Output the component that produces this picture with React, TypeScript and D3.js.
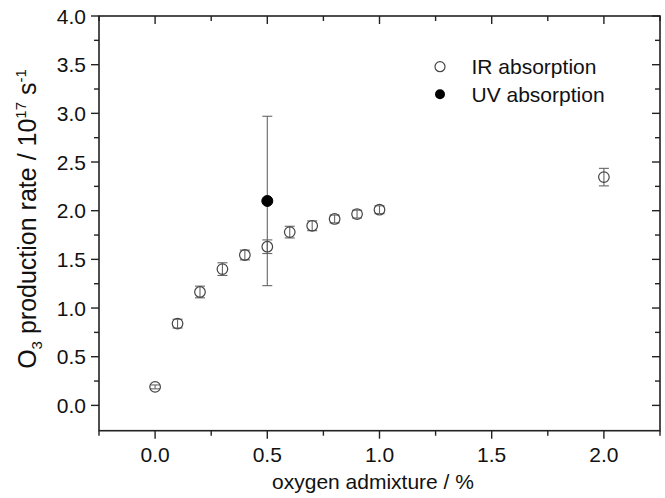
import React from "react";
import * as d3 from "d3";

const irX = [0.0, 0.1, 0.2, 0.3, 0.4, 0.5, 0.6, 0.7, 0.8, 0.9, 1.0, 2.0];
const irY = [0.19, 0.84, 1.165, 1.40, 1.545, 1.63, 1.78, 1.845, 1.915, 1.965, 2.01, 2.345];
const irErr = [0.02, 0.045, 0.06, 0.065, 0.05, 0.07, 0.06, 0.05, 0.04, 0.04, 0.04, 0.09];
const uvX = [0.5];
const uvY = [2.1];
const uvErr = [0.87];
const xMajor = [0, 0.5, 1.0, 1.5, 2.0];
const xMinor = [-0.25, 0.25, 0.75, 1.25, 1.75, 2.25];
const yMajor = [0, 0.5, 1.0, 1.5, 2.0, 2.5, 3.0, 3.5, 4.0];
const yMinor = [0.25, 0.75, 1.25, 1.75, 2.25, 2.75, 3.25, 3.75];
const legendLabels = ["IR absorption", "UV absorption"];

const W = 665, H = 498;
const L = 99, R = 660, T = 16, B = 430.7;
const FONT = "'Liberation Sans', Arial, sans-serif";

export default function App() {
  const x = d3.scaleLinear().domain([-0.25, 2.25]).range([L, R]);
  const y = d3.scaleLinear().domain([-0.26, 4.0]).range([B, T]);
  const fmt = d3.format(".1f");
  const axisColor = "#222";
  const errColor = "#666";
  const capHalf = 5;

  const errBar = (xv: number, yv: number, e: number, key: string) => (
    <g key={key} stroke={errColor} strokeWidth={1.1}>
      <line x1={x(xv)} x2={x(xv)} y1={y(yv + e)} y2={y(yv - e)} />
      <line x1={x(xv) - capHalf} x2={x(xv) + capHalf} y1={y(yv + e)} y2={y(yv + e)} />
      <line x1={x(xv) - capHalf} x2={x(xv) + capHalf} y1={y(yv - e)} y2={y(yv - e)} />
    </g>
  );

  return (
    <svg width={W} height={H} style={{ position: "absolute", left: 0, top: 0, background: "#fff" }} fontFamily={FONT}>
      <rect x={0} y={0} width={W} height={H} fill="#fff" />
      {irX.map((xv, i) => errBar(xv, irY[i], irErr[i], "ie" + i))}
      {uvX.map((xv, i) => errBar(xv, uvY[i], uvErr[i], "ue" + i))}
      {irX.map((xv, i) => (
        <circle key={"ir" + i} cx={x(xv)} cy={y(irY[i])} r={5.3} fill="none" stroke="#444" strokeWidth={1.2} />
      ))}
      {uvX.map((xv, i) => (
        <circle key={"uv" + i} cx={x(xv)} cy={y(uvY[i])} r={5.5} fill="#000" stroke="#000" strokeWidth={1} />
      ))}
      <rect x={L} y={T} width={R - L} height={B - T} fill="none" stroke={axisColor} strokeWidth={1.6} />
      {xMajor.map((v) => (
        <g key={"xM" + v} stroke={axisColor} strokeWidth={1.4}>
          <line x1={x(v)} x2={x(v)} y1={B} y2={B + 8} />
          <line x1={x(v)} x2={x(v)} y1={T} y2={T + 8} />
        </g>
      ))}
      {xMinor.map((v) => (
        <g key={"xm" + v} stroke={axisColor} strokeWidth={1.4}>
          <line x1={x(v)} x2={x(v)} y1={B} y2={B + 5} />
          <line x1={x(v)} x2={x(v)} y1={T} y2={T + 5} />
        </g>
      ))}
      {xMajor.map((v) => (
        <text key={"xl" + v} x={x(v)} y={462} textAnchor="middle" fontSize={21} fill="#111">
          {fmt(v)}
        </text>
      ))}
      {yMajor.map((v) => (
        <g key={"yM" + v} stroke={axisColor} strokeWidth={1.4}>
          <line x1={L - 8} x2={L} y1={y(v)} y2={y(v)} />
          <line x1={R - 8} x2={R} y1={y(v)} y2={y(v)} />
        </g>
      ))}
      {yMinor.map((v) => (
        <g key={"ym" + v} stroke={axisColor} strokeWidth={1.4}>
          <line x1={L - 5} x2={L} y1={y(v)} y2={y(v)} />
          <line x1={R - 5} x2={R} y1={y(v)} y2={y(v)} />
        </g>
      ))}
      {yMajor.map((v) => (
        <text key={"yl" + v} x={86} y={y(v)} dy="0.36em" textAnchor="end" fontSize={21} fill="#111">
          {fmt(v)}
        </text>
      ))}
      <text x={373} y={489} textAnchor="middle" fontSize={21} fill="#111">
        oxygen admixture / %
      </text>
      <text transform={`translate(36, 219) rotate(-90)`} textAnchor="middle" fontSize={25} fill="#111">
        O<tspan fontSize={15} dy={6}>3</tspan>
        <tspan dy={-6}> production rate / 10</tspan>
        <tspan fontSize={15} dy={-10}>17</tspan>
        <tspan dy={10}> s</tspan>
        <tspan fontSize={15} dy={-10}>-1</tspan>
      </text>
      <circle cx={440} cy={66.7} r={5} fill="none" stroke="#444" strokeWidth={1.2} />
      <text x={471.5} y={74} fontSize={21} fill="#111">{legendLabels[0]}</text>
      <circle cx={440} cy={94.3} r={5} fill="#000" />
      <text x={471.5} y={101.7} fontSize={21} fill="#111">{legendLabels[1]}</text>
    </svg>
  );
}
